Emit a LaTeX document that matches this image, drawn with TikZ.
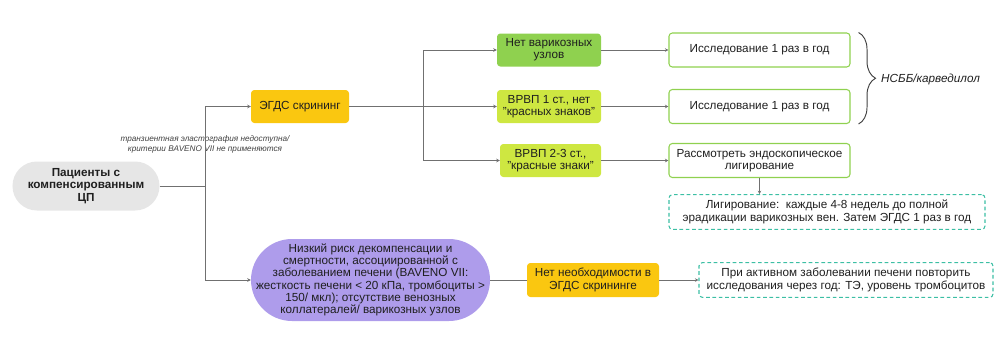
\documentclass[tikz,border=0pt]{standalone}
\usepackage{fontspec}
\setmainfont{Liberation Sans}
\usetikzlibrary{arrows.meta, decorations.pathreplacing}
\definecolor{patgrey}{HTML}{E6E6E6}
\definecolor{egdsgold}{HTML}{FAC710}
\definecolor{novargreen}{HTML}{8FD14F}
\definecolor{vrvplime}{HTML}{CEE741}
\definecolor{riskviolet}{HTML}{AE9CEB}
\definecolor{dashteal}{HTML}{3CBFA4}
\definecolor{linkgrey}{HTML}{707070}
\definecolor{inkdark}{HTML}{1F1F1F}

\tikzset{
  base/.style={inner sep=0pt, align=center, text=inkdark, font=\fontsize{10}{10.5}\selectfont},
  pill/.style={base, rounded corners=#1},
  fillbox/.style={base, rounded corners=1mm, fill=#1, minimum height=9.9mm},
  whitebox/.style={base, draw=novargreen, line width=0.9pt, rounded corners=1mm, minimum width=54.3mm, minimum height=10.2mm},
  dashbox/.style={base, draw=dashteal, line width=0.9pt, dash pattern=on 1.1mm off 0.8mm, rounded corners=1mm, minimum height=10.4mm},
  link/.style={draw=linkgrey, line width=0.75pt},
  arr/.style={link, -{Stealth[length=3pt,width=3pt]}},
}

\begin{document}
\begin{tikzpicture}[x=0.3mm, y=-0.3mm]
	\useasboundingbox (0,0) rectangle (998,358);
	
	% start and screening branch
	\node[pill=7.3mm, fill=patgrey, minimum width=44.1mm, minimum height=14.7mm, font=\bfseries\fontsize{10}{10.5}\selectfont] (pat) at (86,186) {Пациенты с\\компенсированным\\ЦП};
	\node[fillbox=egdsgold, minimum width=29.4mm] (egds) at (300,106.5) {ЭГДС скрининг};
	\node[font=\itshape\fontsize{7}{8.5}\selectfont, text=darkgray, align=center, inner sep=0pt] (elasto) at (205,144) {транзиентная эластография недоступна/\\критерии BAVENO VII не применяются};
	
	\node[fillbox=novargreen, minimum width=31.2mm] (novar) at (549,50) {Нет варикозных\\узлов};
	\node[fillbox=vrvplime, minimum width=31.2mm] (vrvp1) at (549,106.5) {ВРВП 1 ст., нет\\"красных знаков"};
	\node[fillbox=vrvplime, minimum width=30.3mm] (vrvp2) at (550.5,160.5) {ВРВП 2-3 ст.,\\"красные знаки"};
	
	\node[whitebox] (year1) at (759.5,50) {Исследование 1 раз в год};
	\node[whitebox] (year2) at (759.5,106.5) {Исследование 1 раз в год};
	\node[whitebox] (endo) at (759.5,160.5) {Рассмотреть эндоскопическое\\лигирование};
	\node[dashbox, minimum width=94.8mm] (ligat) at (827,212) {Лигирование:\ \ каждые 4-8 недель до полной\\эрадикации варикозных вен. Затем ЭГДС 1 раз в год};
	\node[font=\itshape\fontsize{10}{12}\selectfont, text=inkdark, anchor=west, inner sep=0pt] (nsbb) at (881,79) {НСББ/карведилол};
	
	% low risk branch
	\node[pill=12.3mm, fill=riskviolet, minimum width=71.7mm, minimum height=24.6mm] (risk) at (370.5,280) {Низкий риск декомпенсации и\\смертности, ассоциированной с\\заболеванием печени (BAVENO VII:\\жесткость печени < 20 кПа, тромбоциты >\\150/ мкл); отсутствие венозных\\коллатералей/ варикозных узлов};
	\node[fillbox=egdsgold, minimum width=39.6mm, minimum height=10.2mm] (noneed) at (593,280) {Нет необходимости в\\ЭГДС скрининге};
	\node[dashbox, minimum width=88.2mm] (repeat) at (846,280) {При активном заболевании печени повторить\\исследования через год: ТЭ, уровень тромбоцитов};
	
	% connectors
	\coordinate (fork1) at (205,186);
	\coordinate (fork2) at (423,106.5);
	\draw[link] (pat.east) -- (fork1);
	\draw[arr] (fork1) |- (egds.west);
	\draw[arr] (fork1) |- (risk.west);
	\draw[link] (egds.east) -- (fork2);
	\draw[arr] (fork2) |- (novar.west);
	\draw[arr] (fork2) -- (vrvp1.west);
	\draw[arr] (fork2) |- (vrvp2.west);
	\draw[arr] (novar.east) -- (year1.west);
	\draw[arr] (vrvp1.east) -- (year2.west);
	\draw[arr] (vrvp2.east) -- (endo.west);
	\draw[arr] (endo.south) -- (endo.south |- ligat.north);
	\draw[link] (risk.east) -- (noneed.west);
	\draw[arr] (noneed.east) -- (repeat.west);
	\draw[decorate, decoration={brace, amplitude=5.1mm}, draw=darkgray, line width=0.8pt] ([xshift=2.4mm]year1.north east) -- ([xshift=2.4mm]year2.south east);
\end{tikzpicture}
\end{document}
